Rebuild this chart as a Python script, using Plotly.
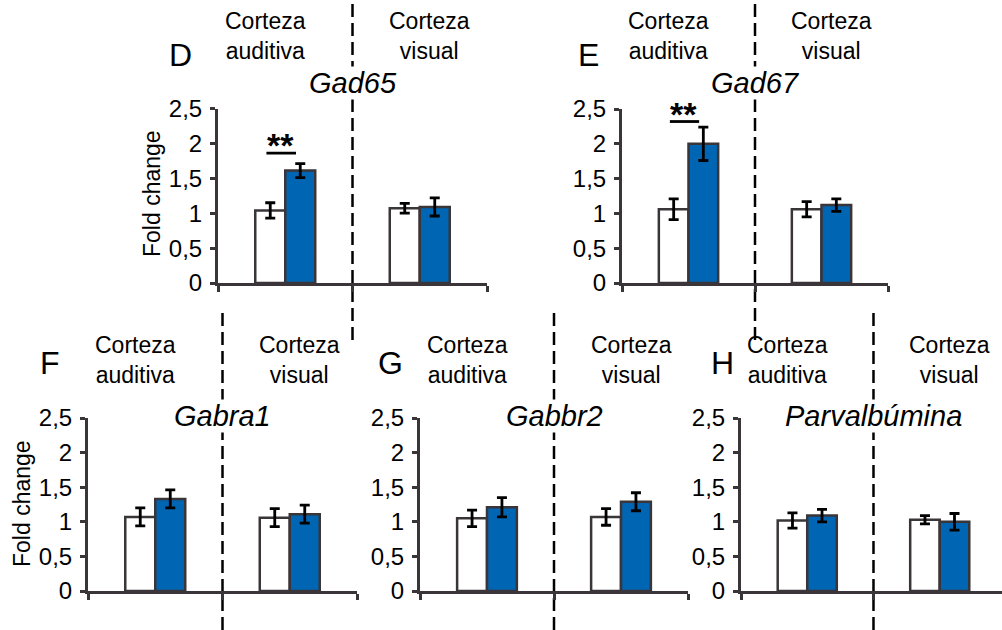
import plotly.graph_objects as go

W, H = 1002, 630

# ---------------- data ----------------
regions = ["Corteza auditiva", "Corteza visual"]
region_labels = ["Corteza<br>auditiva", "Corteza<br>visual"]
panel_letters = ["D", "E", "F", "G", "H"]
genes = ["Gad65", "Gad67", "Gabra1", "Gabbr2", "Parvalbúmina"]

control_vals = [[1.04, 1.07], [1.06, 1.06], [1.07, 1.06], [1.05, 1.07], [1.02, 1.03]]
control_err = [[0.11, 0.07], [0.15, 0.11], [0.13, 0.13], [0.12, 0.12], [0.11, 0.06]]
treated_vals = [[1.61, 1.09], [2.00, 1.12], [1.33, 1.11], [1.21, 1.29], [1.09, 1.00]]
treated_err = [[0.10, 0.13], [0.24, 0.09], [0.13, 0.13], [0.14, 0.13], [0.09, 0.12]]

sig_labels = ["**", "**", None, None, None]
sig_levels = [1.86, 2.32, None, None, None]

y_ticks = [0, 0.5, 1, 1.5, 2, 2.5]
y_tick_labels = ["0", "0,5", "1", "1,5", "2", "2,5"]
y_title = "Fold change"

# ---------------- layout geometry (pixels) ----------------
# (x0, x1, y_bottom, y_top)
boxes = [
    (218, 487, 283, 108.5),
    (622, 888, 283, 109),
    (88, 357, 591, 418),
    (420, 688, 591, 418),
    (741, 1002, 591, 418),
]
x_ranges = [[-0.5, 1.5], [-0.5, 1.5], [-0.5, 1.5], [-0.5, 1.5], [-0.5, 1.47]]
dash_spans = [(0, 340), (0, 340), (308, 630), (308, 630), (308, 630)]
letter_pos = [(180, 55), (588, 55), (50, 363), (390, 363), (722, 363)]
title_y = [83, 83, 416, 416, 416]
label_y = [36, 36, 360, 360, 360]
ytitle_pos = {0: (152, 194), 2: (22, 504)}

AX = "#3a3538"
BLUE = "#0066b3"
FONT = "Liberation Sans, Arial, sans-serif"


def px(x):
    return x / W


def py(y):
    return 1 - y / H


fig = go.Figure()
layout = dict(
    width=W, height=H, margin=dict(l=0, r=0, t=0, b=0, pad=0, autoexpand=False),
    template="none",
    paper_bgcolor="white", plot_bgcolor="rgba(0,0,0,0)",
    showlegend=False, barmode="group", bargap=0.554, bargroupgap=0,
    font=dict(family=FONT, color="black"),
)
shapes = []
annotations = []

for i in range(5):
    n = "" if i == 0 else str(i + 1)
    xa, ya = "x" + n, "y" + n
    x0, x1, yb, yt = boxes[i]

    fig.add_trace(go.Bar(
        x=regions, y=control_vals[i], xaxis=xa, yaxis=ya,
        marker=dict(color="white", line=dict(color=AX, width=2.5)),
        error_y=dict(type="data", array=control_err[i], color="black", thickness=2.8, width=5),
        offsetgroup="ctrl",
    ))
    fig.add_trace(go.Bar(
        x=regions, y=treated_vals[i], xaxis=xa, yaxis=ya,
        marker=dict(color=BLUE, line=dict(color=AX, width=2.5)),
        error_y=dict(type="data", array=treated_err[i], color="black", thickness=2.8, width=5),
        offsetgroup="trt",
    ))

    layout["xaxis" + n] = dict(
        domain=[px(x0), px(x1)], anchor=ya, type="category", automargin=False,
        categoryorder="array", categoryarray=regions, range=x_ranges[i],
        showline=True, linecolor=AX, linewidth=3,
        ticks="outside", tickson="boundaries", ticklen=6, tickwidth=3, tickcolor=AX,
        showticklabels=False, showgrid=False, zeroline=False, fixedrange=True,
    )
    layout["yaxis" + n] = dict(
        domain=[py(yb), py(yt)], anchor=xa, range=[0, 2.5], automargin=False,
        tickvals=y_ticks, ticktext=y_tick_labels,
        tickfont=dict(size=24, family=FONT, color="black"),
        showline=True, linecolor=AX, linewidth=3,
        ticks="outside", ticklen=5, tickwidth=2.5, tickcolor=AX,
        ticklabelstandoff=3,
        showgrid=False, zeroline=False, fixedrange=True,
    )

    # dashed separator between regions
    d0, d1 = dash_spans[i]
    shapes.append(dict(
        type="line", xref=xa, yref="paper", x0=0.5, x1=0.5, y0=py(d1), y1=py(d0),
        line=dict(color="black", width=2.5, dash="13px,6px"), layer="below",
    ))

    # region labels
    for k, lab in enumerate(region_labels):
        annotations.append(dict(
            xref=xa, yref="paper", x=k, y=py(label_y[i]), text=lab, showarrow=False,
            xshift=-20 if k == 0 else 10, align="center",
            font=dict(size=23, family=FONT, color="black"), yanchor="middle",
        ))

    # panel letter
    lx, ly = letter_pos[i]
    annotations.append(dict(
        xref="paper", yref="paper", x=px(lx), y=py(ly), text=panel_letters[i],
        showarrow=False, font=dict(size=32, family=FONT, color="black"),
        xanchor="center", yanchor="middle",
    ))

    # gene title
    annotations.append(dict(
        xref=xa, yref="paper", x=0.5, y=py(title_y[i]), text="<i>" + genes[i] + "</i>",
        showarrow=False, font=dict(size=29, family=FONT, color="black"),
        xanchor="center", yanchor="middle", bgcolor="white", borderpad=0,
    ))

    # y-axis title
    if i in ytitle_pos:
        tx, ty = ytitle_pos[i]
        annotations.append(dict(
            xref="paper", yref="paper", x=px(tx), y=py(ty), text=y_title,
            textangle=-90, showarrow=False,
            font=dict(size=23, family=FONT, color="black"),
            xanchor="center", yanchor="middle",
        ))

    # significance
    if sig_labels[i]:
        shapes.append(dict(
            type="line", xref=xa, yref=ya, x0=-0.14, x1=0.08,
            y0=sig_levels[i], y1=sig_levels[i], line=dict(color="black", width=2.8),
        ))
        annotations.append(dict(
            xref=xa, yref=ya, x=-0.035, y=sig_levels[i], text="<b>" + sig_labels[i] + "</b>",
            showarrow=False, font=dict(size=34, family=FONT, color="black"),
            xanchor="center", yanchor="middle", yshift=8,
        ))

layout["shapes"] = shapes
layout["annotations"] = annotations
fig.update_layout(**layout)
fig.write_html(
    "out.html",
    config={"displayModeBar": False},
    post_script="document.body.style.margin='0';document.body.style.overflow='hidden';",
)
